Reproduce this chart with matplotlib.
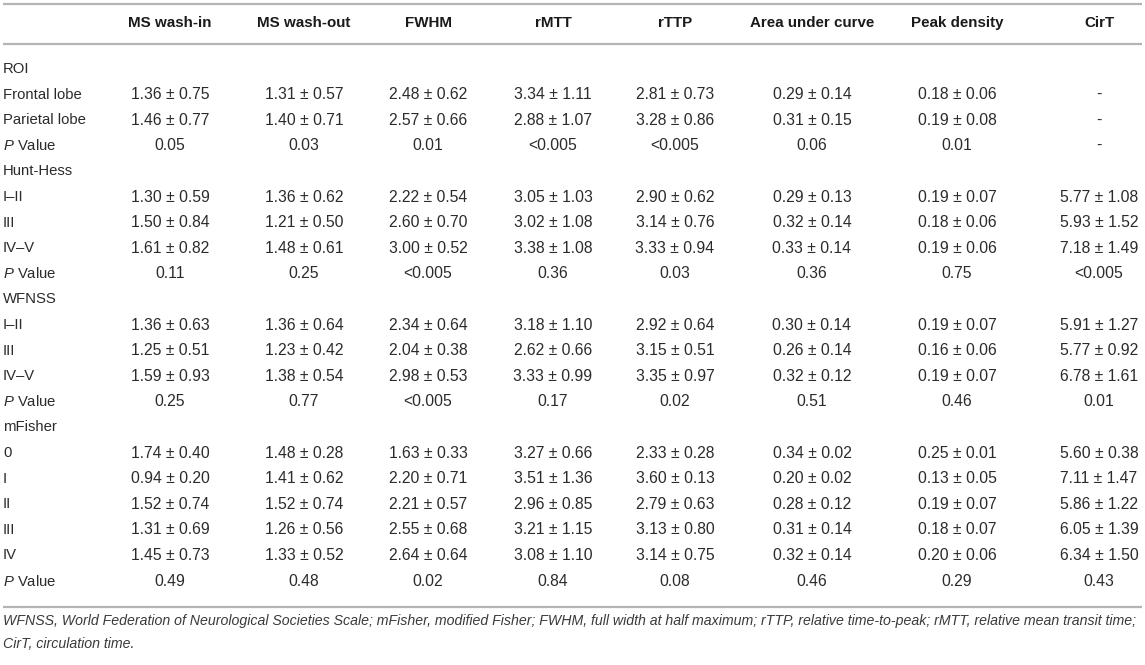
import matplotlib
matplotlib.use("Agg")
import matplotlib.pyplot as plt

plt.rcParams['font.family'] = ['Liberation Sans', 'DejaVu Sans']
plt.rcParams['mathtext.fontset'] = 'custom'
plt.rcParams['mathtext.rm'] = 'Liberation Sans'
plt.rcParams['mathtext.it'] = 'Liberation Sans:italic'

# ---------------- data ----------------
columns = ["MS wash-in", "MS wash-out", "FWHM", "rMTT", "rTTP",
           "Area under curve", "Peak density", "CirT"]

row_labels = ["ROI", "Frontal lobe", "Parietal lobe", "P Value",
              "Hunt-Hess", "I\u2013II", "III", "IV\u2013V", "P Value",
              "WFNSS", "I\u2013II", "III", "IV\u2013V", "P Value",
              "mFisher", "0", "I", "II", "III", "IV", "P Value"]

roi_frontal = ["1.36 ± 0.75", "1.31 ± 0.57", "2.48 ± 0.62", "3.34 ± 1.11", "2.81 ± 0.73", "0.29 ± 0.14", "0.18 ± 0.06", "-"]
roi_parietal = ["1.46 ± 0.77", "1.40 ± 0.71", "2.57 ± 0.66", "2.88 ± 1.07", "3.28 ± 0.86", "0.31 ± 0.15", "0.19 ± 0.08", "-"]
roi_p = ["0.05", "0.03", "0.01", "<0.005", "<0.005", "0.06", "0.01", "-"]

hh_1_2 = ["1.30 ± 0.59", "1.36 ± 0.62", "2.22 ± 0.54", "3.05 ± 1.03", "2.90 ± 0.62", "0.29 ± 0.13", "0.19 ± 0.07", "5.77 ± 1.08"]
hh_3 = ["1.50 ± 0.84", "1.21 ± 0.50", "2.60 ± 0.70", "3.02 ± 1.08", "3.14 ± 0.76", "0.32 ± 0.14", "0.18 ± 0.06", "5.93 ± 1.52"]
hh_4_5 = ["1.61 ± 0.82", "1.48 ± 0.61", "3.00 ± 0.52", "3.38 ± 1.08", "3.33 ± 0.94", "0.33 ± 0.14", "0.19 ± 0.06", "7.18 ± 1.49"]
hh_p = ["0.11", "0.25", "<0.005", "0.36", "0.03", "0.36", "0.75", "<0.005"]

wf_1_2 = ["1.36 ± 0.63", "1.36 ± 0.64", "2.34 ± 0.64", "3.18 ± 1.10", "2.92 ± 0.64", "0.30 ± 0.14", "0.19 ± 0.07", "5.91 ± 1.27"]
wf_3 = ["1.25 ± 0.51", "1.23 ± 0.42", "2.04 ± 0.38", "2.62 ± 0.66", "3.15 ± 0.51", "0.26 ± 0.14", "0.16 ± 0.06", "5.77 ± 0.92"]
wf_4_5 = ["1.59 ± 0.93", "1.38 ± 0.54", "2.98 ± 0.53", "3.33 ± 0.99", "3.35 ± 0.97", "0.32 ± 0.12", "0.19 ± 0.07", "6.78 ± 1.61"]
wf_p = ["0.25", "0.77", "<0.005", "0.17", "0.02", "0.51", "0.46", "0.01"]

mf_0 = ["1.74 ± 0.40", "1.48 ± 0.28", "1.63 ± 0.33", "3.27 ± 0.66", "2.33 ± 0.28", "0.34 ± 0.02", "0.25 ± 0.01", "5.60 ± 0.38"]
mf_1 = ["0.94 ± 0.20", "1.41 ± 0.62", "2.20 ± 0.71", "3.51 ± 1.36", "3.60 ± 0.13", "0.20 ± 0.02", "0.13 ± 0.05", "7.11 ± 1.47"]
mf_2 = ["1.52 ± 0.74", "1.52 ± 0.74", "2.21 ± 0.57", "2.96 ± 0.85", "2.79 ± 0.63", "0.28 ± 0.12", "0.19 ± 0.07", "5.86 ± 1.22"]
mf_3 = ["1.31 ± 0.69", "1.26 ± 0.56", "2.55 ± 0.68", "3.21 ± 1.15", "3.13 ± 0.80", "0.31 ± 0.14", "0.18 ± 0.07", "6.05 ± 1.39"]
mf_4 = ["1.45 ± 0.73", "1.33 ± 0.52", "2.64 ± 0.64", "3.08 ± 1.10", "3.14 ± 0.75", "0.32 ± 0.14", "0.20 ± 0.06", "6.34 ± 1.50"]
mf_p = ["0.49", "0.48", "0.02", "0.84", "0.08", "0.46", "0.29", "0.43"]

row_values = [None, roi_frontal, roi_parietal, roi_p,
              None, hh_1_2, hh_3, hh_4_5, hh_p,
              None, wf_1_2, wf_3, wf_4_5, wf_p,
              None, mf_0, mf_1, mf_2, mf_3, mf_4, mf_p]

footnote = ["WFNSS, World Federation of Neurological Societies Scale; mFisher, modified Fisher; FWHM, full width at half maximum; "
            "rTTP, relative time-to-peak; rMTT, relative mean transit time;",
            "CirT, circulation time."]

# ---------------- layout ----------------
W, H = 1145, 665
fig = plt.figure(figsize=(W / 100, H / 100), dpi=100)
ax = fig.add_axes([0, 0, 1, 1])
ax.set_xlim(0, W)
ax.set_ylim(H, 0)
ax.axis("off")

text_color = "#2b2b2b"
line_color = "#b4b4b4"
col_x = [170, 304, 428, 553, 675, 812, 957, 1099]
header_y = 23
row0_y = 69
row_step = 25.6
fs_label = 10.7
fs_val = 11.3

# rules
ax.hlines([4, 43.5, 606.5], 3, 1142, colors=line_color, linewidth=1.6)

# header
for x, c in zip(col_x, columns):
    ax.text(x, header_y, c, ha="center", va="center", fontsize=10.9,
            fontweight="bold", color="#1a1a1a")

# rows
for i, (lab, vals) in enumerate(zip(row_labels, row_values)):
    y = row0_y + i * row_step
    if lab == "P Value":
        ax.text(3, y, r"$\mathit{P}$ Value", ha="left", va="center",
                fontsize=fs_label, color=text_color)
    else:
        ax.text(3, y, lab, ha="left", va="center", fontsize=fs_label, color=text_color)
    if vals is not None:
        for x, v in zip(col_x, vals):
            ax.text(x, y, v, ha="center", va="center", fontsize=fs_val, color=text_color)

# footnote
for k, line in enumerate(footnote):
    ax.text(3, 621 + k * 23, line, ha="left", va="center", fontsize=10.2,
            style="italic", color="#3a3a3a")

fig.savefig("out.png", dpi=100)
